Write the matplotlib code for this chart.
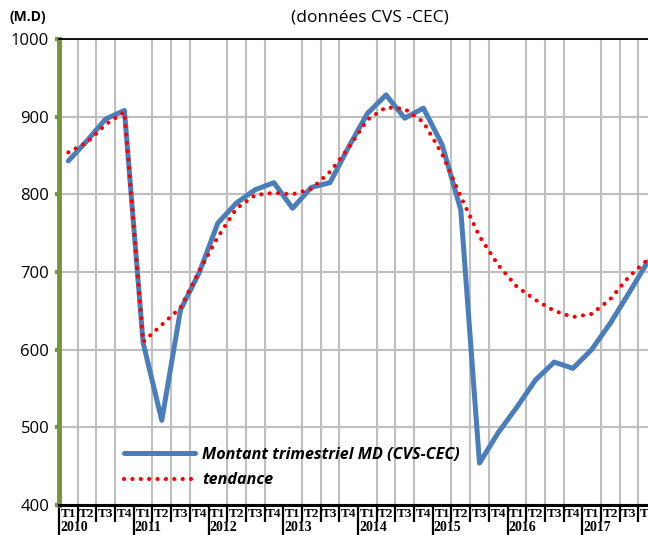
import matplotlib
matplotlib.use("Agg")
import matplotlib.pyplot as plt
import matplotlib.transforms as mtransforms
import numpy as np

years = ["2010", "2011", "2012", "2013", "2014", "2015", "2016", "2017"]
quarters = ["T1", "T2", "T3", "T4"]

# Montant trimestriel MD (CVS-CEC), 2010T1 .. 2017T4
montant = [843, 869, 897, 908, 609, 509, 651, 699,
           763, 789, 806, 815, 782, 809, 815, 861,
           904, 928, 898, 911, 864, 780, 454, 493,
           526, 561, 584, 576, 600, 634, 673, 713]

# tendance
tendance = [854, 867, 890, 906, 610, 632, 654, 701,
            745, 782, 799, 802, 800, 807, 829, 860,
            896, 912, 910, 893, 852, 797, 746, 709,
            681, 664, 650, 642, 646, 665, 694, 716]

n = len(montant)
x = np.arange(n)

fig = plt.figure(figsize=(6.48, 5.35), dpi=100)
ax = fig.add_axes([59 / 648, 30 / 535, 598 / 648, 466 / 535])

ax.plot(x, montant, color="#4A7EBB", linewidth=3.6, solid_joinstyle="round",
        solid_capstyle="round", label="Montant trimestriel MD (CVS-CEC)", zorder=3)
ax.plot(x, tendance, color="#FF0000", linewidth=3.0, linestyle=(0, (0.01, 2.0)),
        dash_capstyle="round", label="tendance", zorder=4)

ax.set_xlim(-0.5, n - 0.5)
ax.set_ylim(400, 1000)
ax.set_yticks(np.arange(400, 1001, 100))

# vertical grid at category boundaries, horizontal grid at 100 steps
ax.set_xticks(np.arange(-0.5, n, 4))
ax.set_xticks(np.arange(-0.5, n, 1), minor=True)
ax.set_xticklabels([])
ax.grid(True, which="minor", axis="x", color="#BFBFBF", linewidth=1.5, zorder=0)
ax.grid(True, which="major", axis="y", color="#BFBFBF", linewidth=1.5, zorder=0)
ax.set_axisbelow(True)

ax.tick_params(axis="x", which="minor", direction="out", length=12, width=1.6,
               color="black")
ax.tick_params(axis="x", which="major", direction="out", length=26, width=1.6,
               color="black")
ax.tick_params(axis="y", direction="out", length=3, width=3, color="#77933C",
               labelsize=12, pad=4)

for lab in ax.get_yticklabels():
    lab.set_fontfamily("Open Sans")

ax.spines["left"].set_color("#77933C")
ax.spines["left"].set_linewidth(3.5)
ax.spines["bottom"].set_color("black")
ax.spines["bottom"].set_linewidth(2.2)
ax.spines["top"].set_color("black")
ax.spines["top"].set_linewidth(1.3)
ax.spines["right"].set_visible(False)

trans = mtransforms.blended_transform_factory(ax.transData, ax.transAxes)
for i in range(n):
    ax.text(i, -0.006, quarters[i % 4], transform=trans, ha="center", va="top",
            fontsize=9.5, fontweight="bold", family="Liberation Serif")
for k, yr in enumerate(years):
    ax.text(k * 4 - 0.45, -0.035, yr, transform=trans, ha="left", va="top",
            fontsize=10, fontweight="bold", family="Liberation Serif")

leg = ax.legend(loc="lower left", bbox_to_anchor=(0.085, 0.005), frameon=False,
                handlelength=4.4, handletextpad=0.45, labelspacing=0.6,
                prop={"family": "Open Sans", "weight": "bold", "style": "italic",
                      "size": 11.6})

fig.text(370 / 648, 1 - 18 / 535, "(données CVS -CEC)", ha="center", va="center",
         fontsize=12.5, family="Open Sans")
fig.text(10 / 648, 1 - 17 / 535, "(M.D)", ha="left", va="center",
         fontsize=10, fontweight="bold", family="Open Sans")

fig.savefig("out.png", dpi=100)
